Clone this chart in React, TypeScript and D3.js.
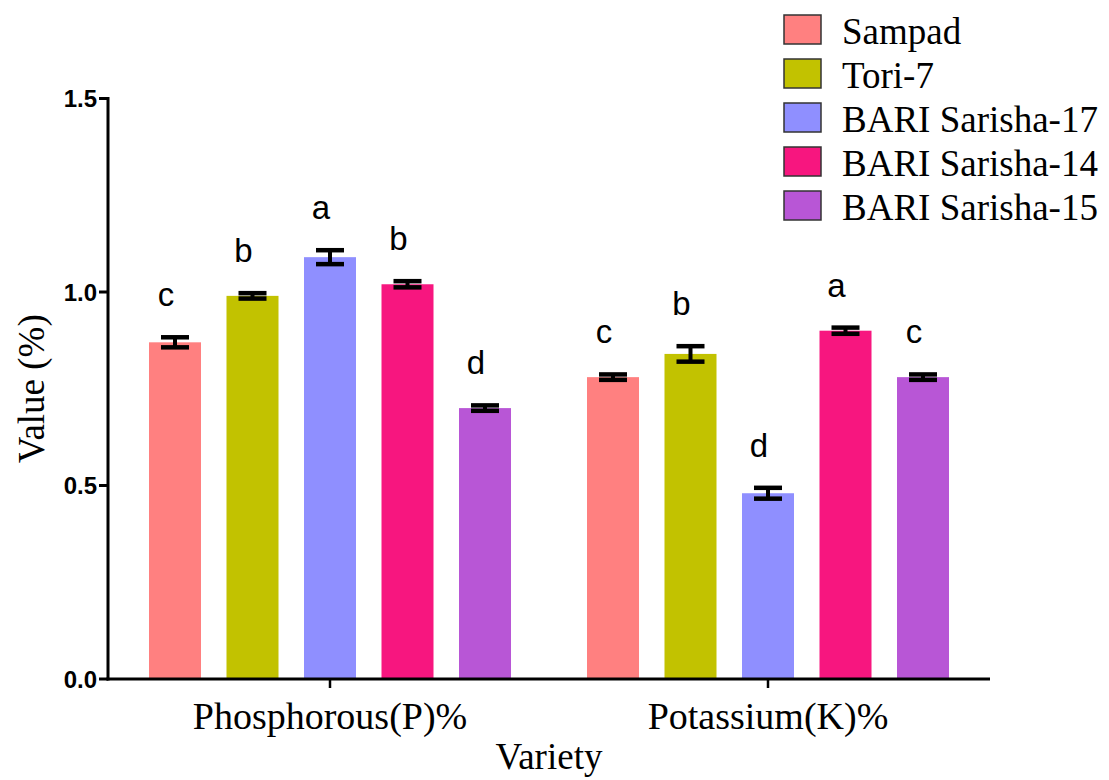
import React from "react";
import * as d3 from "d3";

const groups = ["Phosphorous(P)%", "Potassium(K)%"];
const varieties = ["Sampad", "Tori-7", "BARI Sarisha-17", "BARI Sarisha-14", "BARI Sarisha-15"];
const colors = ["#FF8080", "#C2C200", "#8F8FFF", "#F7167F", "#B856D6"];
const phosphorus = [0.87, 0.99, 1.09, 1.02, 0.70];
const phosphorusErr = [0.013, 0.007, 0.018, 0.008, 0.007];
const potassium = [0.78, 0.84, 0.48, 0.90, 0.78];
const potassiumErr = [0.007, 0.02, 0.014, 0.008, 0.007];
const phosphorusLetters = ["c", "b", "a", "b", "d"];
const potassiumLetters = ["c", "b", "d", "a", "c"];
const yTicks = [0, 0.5, 1.0, 1.5];

const W = 1109;
const H = 780;
const left = 108;
const right = 990;
const top = 98.5;
const bottom = 679;

const serif = "'Times New Roman', 'Liberation Serif', 'DejaVu Serif', serif";
const sans = "Arial, 'Liberation Sans', sans-serif";

export default function App() {
  const y = d3.scaleLinear().domain([0, 1.5]).range([bottom, top]);
  const x0 = d3
    .scaleBand<string>()
    .domain(groups)
    .range([left, right])
    .paddingInner(0.1735)
    .paddingOuter(0.0936);
  const x1 = d3
    .scaleBand<string>()
    .domain(varieties)
    .range([0, x0.bandwidth()])
    .paddingInner(0.329)
    .paddingOuter(0);

  const series = [
    { g: groups[0], vals: phosphorus, errs: phosphorusErr, letters: phosphorusLetters },
    { g: groups[1], vals: potassium, errs: potassiumErr, letters: potassiumLetters },
  ];

  const capW = 28;

  return (
    <svg
      width={W}
      height={H}
      style={{ position: "absolute", left: 0, top: 0, background: "#fff" }}
    >
      <rect x={0} y={0} width={W} height={H} fill="#fff" />
      {series.map((s) =>
        varieties.map((v, i) => {
          const bx = (x0(s.g) as number) + (x1(v) as number);
          const bw = x1.bandwidth();
          const cx = bx + bw / 2;
          const val = s.vals[i];
          const e = s.errs[i];
          const yt = y(val + e);
          const yb = y(val - e);
          return (
            <g key={s.g + v}>
              <rect x={bx} y={y(val)} width={bw} height={bottom - y(val)} fill={colors[i]} />
              <line x1={cx} x2={cx} y1={yt} y2={yb} stroke="#000" strokeWidth={4} />
              <line x1={cx - capW / 2} x2={cx + capW / 2} y1={yt} y2={yt} stroke="#000" strokeWidth={4.5} />
              <line x1={cx - capW / 2} x2={cx + capW / 2} y1={yb} y2={yb} stroke="#000" strokeWidth={4.5} />
              <text
                x={cx - 9}
                y={yt - 31}
                textAnchor="middle"
                style={{ fontFamily: sans, fontSize: "33px" }}
                fill="#000"
              >
                {s.letters[i]}
              </text>
            </g>
          );
        })
      )}

      <line x1={left} x2={left} y1={top - 1.5} y2={bottom + 1.5} stroke="#000" strokeWidth={3} />
      {yTicks.map((t) => (
        <g key={t}>
          <line x1={left - 9} x2={left} y1={y(t)} y2={y(t)} stroke="#000" strokeWidth={3} />
          <text
            x={left - 11}
            y={y(t)}
            dy="0.36em"
            textAnchor="end"
            style={{ fontFamily: sans, fontSize: "24px", fontWeight: "bold" }}
            fill="#000"
          >
            {d3.format(".1f")(t)}
          </text>
        </g>
      ))}

      <line x1={left - 1.5} x2={right} y1={bottom} y2={bottom} stroke="#000" strokeWidth={3} />
      {groups.map((g) => {
        const cx = (x0(g) as number) + x0.bandwidth() / 2;
        return (
          <g key={g}>
            <line x1={cx} x2={cx} y1={bottom} y2={bottom + 9} stroke="#000" strokeWidth={2.5} />
            <text x={cx} y={729} textAnchor="middle" style={{ fontFamily: serif, fontSize: "38px" }} fill="#000">
              {g}
            </text>
          </g>
        );
      })}

      <text
        x={(left + right) / 2}
        y={769}
        textAnchor="middle"
        style={{ fontFamily: serif, fontSize: "37px" }}
        fill="#000"
      >
        Variety
      </text>
      <text
        transform={`translate(44, ${(top + bottom) / 2}) rotate(-90)`}
        textAnchor="middle"
        style={{ fontFamily: serif, fontSize: "37px" }}
        fill="#000"
      >
        Value (%)
      </text>

      {varieties.map((v, i) => (
        <g key={v} transform={`translate(784, ${15 + i * 44})`}>
          <rect x={0} y={0} width={37} height={29} fill={colors[i]} stroke="#333" strokeWidth={1.5} />
          <text x={58} y={29} style={{ fontFamily: serif, fontSize: "37px" }} fill="#000">
            {v}
          </text>
        </g>
      ))}
    </svg>
  );
}
